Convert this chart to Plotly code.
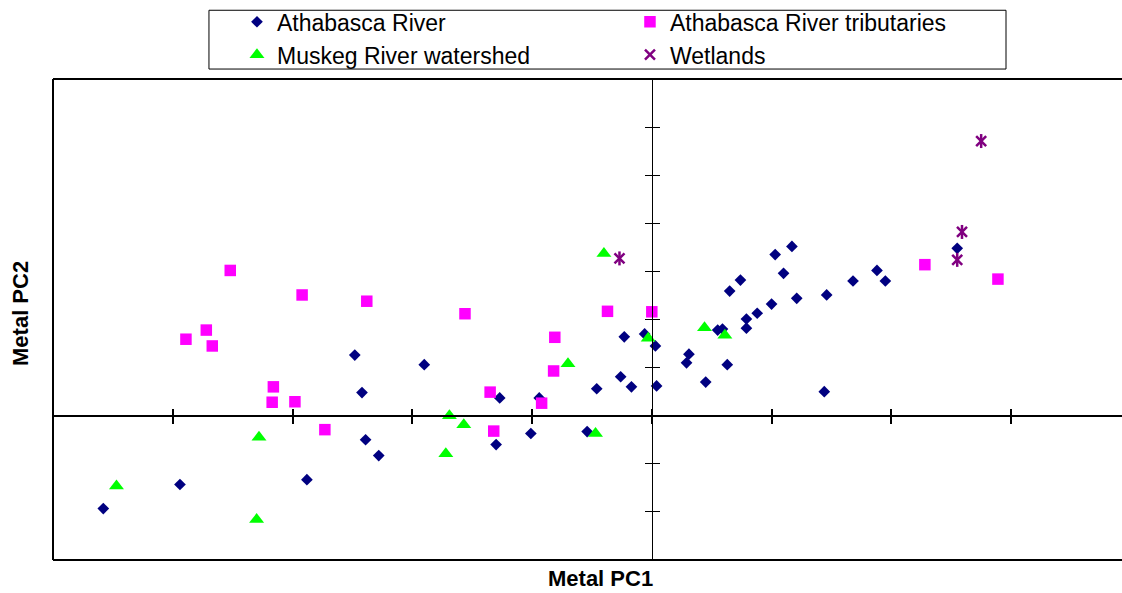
import plotly.graph_objects as go

# Metal PCA scores (PC1, PC2) per sample group
athabasca_pc1 = [-4.58, -3.94, -2.88, -2.48, -2.42, -2.39, -2.28, -1.90, -1.30, -1.27,
                 -1.01, -0.94, -0.54, -0.46, -0.26, -0.23, -0.17, -0.06, 0.03, 0.04,
                 0.29, 0.31, 0.45, 0.55, 0.59, 0.63, 0.65, 0.74, 0.79, 0.79,
                 0.88, 1.00, 1.03, 1.10, 1.17, 1.21, 1.44, 1.46, 1.68, 1.88,
                 1.95, 2.55]
athabasca_pc2 = [-1.93, -1.43, -1.33, 1.26, 0.48, -0.50, -0.83, 1.06, -0.60, 0.37,
                 -0.37, 0.37, -0.33, 0.56, 0.81, 1.64, 0.60, 1.70, 1.45, 0.62,
                 1.10, 1.28, 0.70, 1.78, 1.80, 1.06, 2.59, 2.82, 2.01, 1.82,
                 2.13, 2.32, 3.35, 2.96, 3.52, 2.44, 0.50, 2.51, 2.80, 3.02,
                 2.80, 3.48]

tributaries_pc1 = [-3.89, -3.72, -3.67, -3.52, -3.16, -3.17, -2.98, -2.92, -2.73, -2.38,
                   -1.56, -1.35, -1.32, -0.92, -0.82, -0.81, -0.37, 0.00, 2.28, 2.89]
tributaries_pc2 = [1.59, 1.78, 1.45, 3.02, 0.60, 0.28, 0.29, 2.51, -0.29, 2.38,
                   2.12, 0.49, -0.32, 0.26, 0.93, 1.63, 2.17, 2.16, 3.14, 2.84]

muskeg_pc1 = [-4.47, -3.28, -3.30, -1.69, -1.57, -1.72, -0.70, -0.47, -0.40, -0.03, 0.44, 0.61]
muskeg_pc2 = [-1.46, -0.45, -2.16, 0.00, -0.19, -0.79, 1.08, -0.37, 3.37, 1.61, 1.83, 1.67]

wetlands_pc1 = [-0.27, 2.55, 2.59, 2.75]
wetlands_pc2 = [3.27, 3.24, 3.82, 5.71]

x_range = [-5, 3.926]
y_range = [-3, 7]

FONT = "Liberation Sans, Arial, sans-serif"

fig = go.Figure()

fig.add_trace(go.Scatter(
    x=athabasca_pc1, y=athabasca_pc2, mode="markers", name="Athabasca River",
    marker=dict(symbol="diamond", size=9, color="#000080"),
))
fig.add_trace(go.Scatter(
    x=tributaries_pc1, y=tributaries_pc2, mode="markers", name="Athabasca River tributaries",
    marker=dict(symbol="square", size=11.5, color="#FF00FF"),
))
fig.add_trace(go.Scatter(
    x=muskeg_pc1, y=muskeg_pc2, mode="markers", name="Muskeg River watershed",
    marker=dict(symbol="triangle-up", size=13, color="#00FF00"),
))
fig.add_trace(go.Scatter(
    x=wetlands_pc1, y=wetlands_pc2, mode="markers", name="Wetlands",
    legendgroup="wet",
    marker=dict(symbol="x-thin-open", size=10, color="#800080",
                line=dict(width=2.5, color="#800080")),
))
# vertical stroke completing the star marker
fig.add_trace(go.Scatter(
    x=wetlands_pc1, y=wetlands_pc2, mode="markers", name="Wetlands",
    legendgroup="wet", showlegend=False, hoverinfo="skip",
    marker=dict(symbol="line-ns-open", size=10, color="#800080",
                line=dict(width=2.5, color="#800080")),
))
# empty trace that carries the mirrored tick axes
fig.add_trace(go.Scatter(x=[], y=[], xaxis="x2", yaxis="y2", showlegend=False,
                         hoverinfo="skip"))

x_zero_pos = (0 - y_range[0]) / (y_range[1] - y_range[0])
y_zero_pos = (0 - x_range[0]) / (x_range[1] - x_range[0])

common = dict(showgrid=False, zeroline=False, showticklabels=False, tick0=0, dtick=1,
              tickcolor="black", linecolor="black")

fig.update_layout(
    width=1122, height=593,
    margin=dict(l=53, r=0, t=77, b=33),
    paper_bgcolor="white", plot_bgcolor="white",
    font=dict(family=FONT, color="black"),
    xaxis=dict(range=x_range, anchor="free", position=x_zero_pos, showline=True,
               linewidth=2, ticks="outside", ticklen=7, tickwidth=2, **common),
    xaxis2=dict(range=x_range, overlaying="x", anchor="free", position=x_zero_pos,
                showline=False, ticks="inside", ticklen=7, tickwidth=2, **common),
    yaxis=dict(range=y_range, anchor="free", position=y_zero_pos, showline=True,
               linewidth=1, ticks="outside", ticklen=7, tickwidth=1, **common),
    yaxis2=dict(range=y_range, overlaying="y", anchor="free", position=y_zero_pos,
                showline=False, ticks="inside", ticklen=7, tickwidth=1, **common),
    legend=dict(orientation="h", x=0.1721, y=1.1636, xanchor="left", yanchor="top",
                entrywidth=348, bgcolor="rgba(0,0,0,0)", borderwidth=0,
                font=dict(family=FONT, size=23, color="black"),
                tracegroupgap=0),
    showlegend=True,
    annotations=[
        dict(text="<b>Metal PC1</b>", xref="paper", yref="paper", x=0.5126, y=-0.0393,
             xanchor="center", yanchor="middle", showarrow=False,
             font=dict(family=FONT, size=22, color="black")),
        dict(text="<b>Metal PC2</b>", xref="paper", yref="paper", x=-0.0309, y=0.5135,
             xanchor="center", yanchor="middle", showarrow=False, textangle=-90,
             font=dict(family=FONT, size=22, color="black")),
    ],
    shapes=[
        # plot frame (open on the right)
        dict(type="line", xref="paper", yref="paper", x0=0, x1=0, y0=0, y1=1,
             line=dict(color="black", width=2)),
        dict(type="line", xref="paper", yref="paper", x0=0, x1=1, y0=1, y1=1,
             line=dict(color="black", width=2)),
        dict(type="line", xref="paper", yref="paper", x0=0, x1=1, y0=0, y1=0,
             line=dict(color="black", width=2)),
        # legend box
        dict(type="rect", xref="paper", yref="paper", x0=0.1459, x1=0.8915,
             y0=1.0207, y1=1.1429, line=dict(color="black", width=1),
             fillcolor="white", layer="below"),
    ],
)

fig.write_html("out.html")
